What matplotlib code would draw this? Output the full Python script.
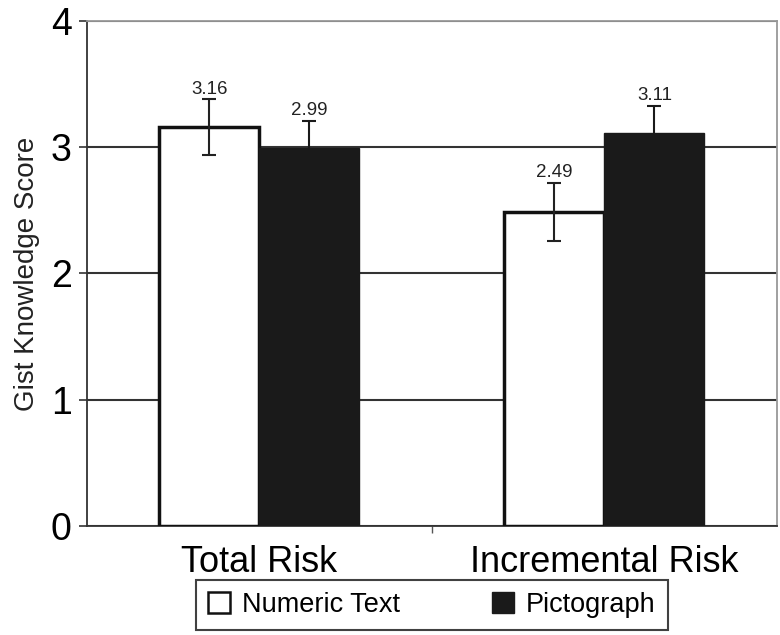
import numpy as np
import matplotlib.pyplot as plt
from matplotlib.patches import Patch

categories = ['Total Risk', 'Incremental Risk']
series = ['Numeric Text', 'Pictograph']
numeric_text = [3.16, 2.49]
pictograph = [2.99, 3.11]
numeric_err = [0.22, 0.23]
pictograph_err = [0.22, 0.22]

plt.rcParams['font.family'] = ['Liberation Sans', 'DejaVu Sans']


def main():
    fig = plt.figure(figsize=(7.8, 6.35), dpi=100)
    ax = fig.add_axes([0.1115, 0.1717, 0.8845, 0.7953])

    x = np.arange(len(categories))
    w = 0.29
    ax.bar(x - w / 2, numeric_text, w, color='white', edgecolor='#111111',
           linewidth=2.5, zorder=3)
    ax.bar(x + w / 2, pictograph, w, color='#1a1a1a', edgecolor='#1a1a1a',
           linewidth=1, zorder=3)
    ax.errorbar(x - w / 2, numeric_text, yerr=numeric_err, fmt='none',
                ecolor='#222222', elinewidth=1.5, capsize=5, capthick=1.5, zorder=4)
    ax.errorbar(x + w / 2, pictograph, yerr=pictograph_err, fmt='none',
                ecolor='#1a1a1a', elinewidth=1.5, capsize=5, capthick=1.5, zorder=4)

    for xs, vals, errs in [(x - w / 2, numeric_text, numeric_err),
                           (x + w / 2, pictograph, pictograph_err)]:
        for xi, v, e in zip(xs, vals, errs):
            ax.text(xi, v + e + 0.01, f'{v:.2f}', ha='center', va='bottom',
                    fontsize=13.5, color='#222222', zorder=5)

    ax.set_xlim(-0.5, 1.5)
    ax.set_ylim(0, 4)
    ax.set_yticks([0, 1, 2, 3, 4])
    ax.yaxis.grid(True, color='#333333', linewidth=1.5, zorder=0)
    ax.set_axisbelow(True)

    ax.set_xticks(x)
    ax.set_xticklabels(categories, fontsize=26)
    ax.set_xticks([0.5], minor=True)
    ax.tick_params(axis='x', which='major', length=0, pad=14)
    ax.tick_params(axis='x', which='minor', length=5, width=1, color='#555555')
    ax.tick_params(axis='y', labelsize=27, length=6, width=1.2, color='#333333', pad=5)

    ax.set_ylabel('Gist Knowledge Score', fontsize=20, color='#222222', labelpad=8)

    for s in ['left', 'bottom']:
        ax.spines[s].set_color('#333333')
        ax.spines[s].set_linewidth(1.3)
    for s in ['top', 'right']:
        ax.spines[s].set_color('#999999')
        ax.spines[s].set_linewidth(1.3)

    handles = [Patch(facecolor='white', edgecolor='#111111', linewidth=1.8),
               Patch(facecolor='#1a1a1a', edgecolor='#1a1a1a')]
    leg = ax.legend(handles, series, loc='upper center', bbox_to_anchor=(0.5, -0.107),
                    ncol=2, fontsize=19.5, frameon=True, fancybox=False,
                    handlelength=0.8, handleheight=0.8, handletextpad=0.45,
                    columnspacing=3.4, borderpad=0.45, borderaxespad=0)
    leg.get_frame().set_edgecolor('#111111')
    leg.get_frame().set_linewidth(1.5)

    plt.savefig('out.png', dpi=100)


if __name__ == '__main__':
    main()
